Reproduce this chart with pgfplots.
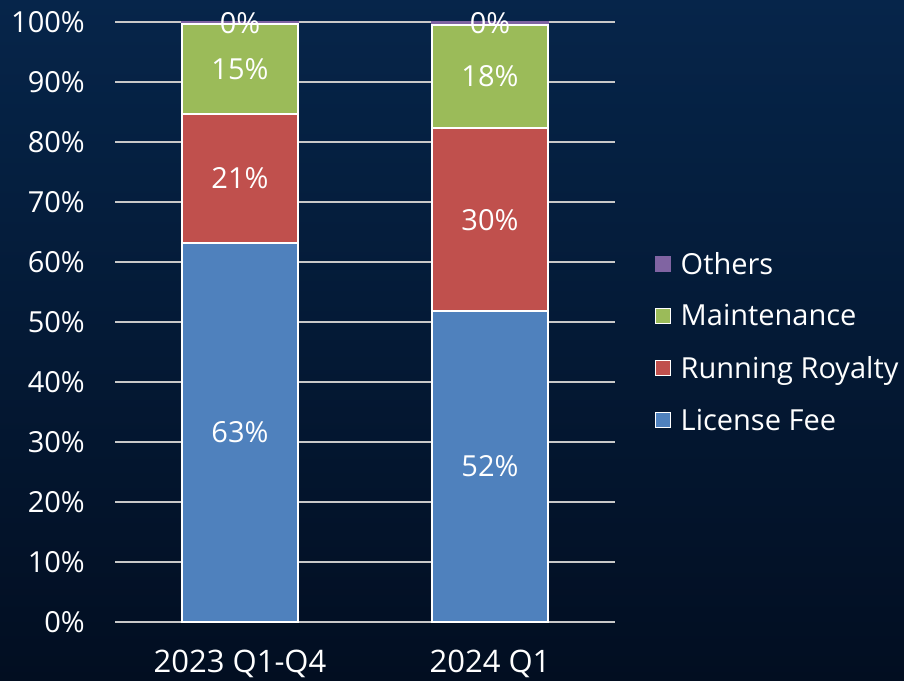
\documentclass[border=0pt]{standalone}
\usepackage{pgfplots}
\pgfplotsset{compat=1.18}
\usepackage{pgfplotstable}
\usepackage{fontspec}
\setmainfont{Open Sans}
\definecolor{bgtop}{RGB}{6,37,74}
\definecolor{bgbot}{RGB}{2,14,33}
\definecolor{cblue}{RGB}{79,129,189}
\definecolor{cred}{RGB}{192,80,77}
\definecolor{cgreen}{RGB}{155,187,89}
\definecolor{cpurple}{RGB}{128,100,162}
\definecolor{gridc}{RGB}{200,200,200}

\pgfplotstableread{
x val lab
0 63.2 63
1 51.8 52
}\lic
\pgfplotstableread{
x val lab
0 21.5 21
1 30.5 30
}\roy
\pgfplotstableread{
x val lab
0 15.0 15
1 17.2 18
}\mai
\pgfplotstableread{
x val lab
0 0.3 0
1 0.5 0
}\oth

\begin{document}
\begin{tikzpicture}[x=1pt,y=1pt]
\path[use as bounding box] (0,0) rectangle (904,680);
\shade[top color=bgtop, bottom color=bgbot] (0,0) rectangle (904,680);
\begin{axis}[
  at={(115pt,58pt)}, anchor=south west,
  scale only axis, width=500pt, height=600pt,
  xmin=-0.5, xmax=1.5, ymin=0, ymax=100,
  ybar stacked, bar width=116pt,
  axis line style={draw=none},
  major tick length=0pt,
  ytick={0,10,...,100},
  yticklabels={0\%,10\%,20\%,30\%,40\%,50\%,60\%,70\%,80\%,90\%,100\%},
  xtick={0,1},
  xticklabels={2023 Q1-Q4,2024 Q1},
  ymajorgrids,
  grid style={gridc, line width=2pt},
  tick label style={text=white, font=\fontsize{29}{34}\selectfont, inner sep=0pt},
  yticklabel style={anchor=east, xshift=-30pt},
  xticklabel style={anchor=north, yshift=-28pt, font=\fontsize{31}{36}\selectfont},
  every axis plot/.append style={draw=white, line width=1.5pt},
  point meta=explicit symbolic,
  nodes near coords={\pgfplotspointmeta\%},
  every node near coord/.append style={text=white, font=\fontsize{29}{34}\selectfont, anchor=center},
  reverse legend,
  legend cell align=left,
  legend image code/.code={\draw[#1, line width=1pt] (0pt,-7.5pt) rectangle (15pt,7.5pt);},
  legend style={draw=none, fill=none, text=white, font=\fontsize{29}{34}\selectfont,
    at={(1.073,0.467)}, anchor=west, row sep=29pt,
    nodes={inner sep=0pt},
    /tikz/every odd column/.append style={column sep=10pt}},
]
\addplot[fill=cblue] table[x=x, y=val, meta=lab] {\lic};
\addlegendentry{License Fee}
\addplot[fill=cred] table[x=x, y=val, meta=lab] {\roy};
\addlegendentry{Running Royalty}
\addplot[fill=cgreen] table[x=x, y=val, meta=lab] {\mai};
\addlegendentry{Maintenance}
\addplot[fill=cpurple, draw=cpurple] table[x=x, y=val, meta=lab] {\oth};
\addlegendentry{Others}
\end{axis}
\end{tikzpicture}
\end{document}
